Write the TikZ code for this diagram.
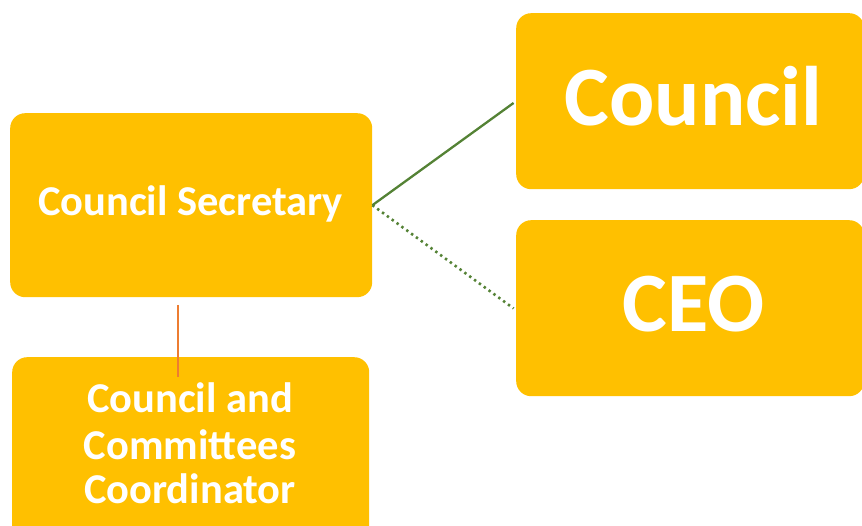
\documentclass[tikz,border=0pt]{standalone}
\usepackage{fontspec}
\setmainfont{Carlito}
\definecolor{boxfill}{HTML}{FFC000}
\definecolor{linkgreen}{HTML}{548235}
\definecolor{linkorange}{HTML}{ED7D31}
\begin{document}
\begin{tikzpicture}[x=1pt,y=-1pt,
  orgbox/.style={draw=none, fill=boxfill, rounded corners=15pt, inner sep=0pt},
  boxtext/.style={text=white, inner sep=0pt, anchor=base},
  smalltext/.style={boxtext, font=\bfseries\fontsize{42.5}{45}\selectfont},
  bigtext/.style={boxtext, font=\bfseries\fontsize{84.5}{90}\selectfont},
  solidlink/.style={draw=linkgreen, line width=2.3pt},
  dottedlink/.style={draw=linkgreen, line width=2.6pt, dash pattern=on 2.4pt off 3.6pt},
  thinlink/.style={draw=linkorange, line width=1.1pt}]
  \useasboundingbox (0,0) rectangle (862,526);
  \clip (0,0) rectangle (862,526);

  % boxes
  \node[orgbox, minimum width=362pt, minimum height=184pt, anchor=north west]
    (sec) at (10,113) {};
  \node[smalltext] (sectext) at (190.5,216) {Council Secretary};

  \node[orgbox, minimum width=348pt, minimum height=176pt, anchor=north west]
    (council) at (516,13) {};
  \node[bigtext] (counciltext) at (693.5,126) {Council};

  \node[orgbox, minimum width=348pt, minimum height=176pt, anchor=north west]
    (ceo) at (516,220) {};
  \node[bigtext] (ceotext) at (693.5,332) {CEO};

  \node[orgbox, minimum width=357pt, minimum height=190pt, anchor=north west]
    (coord) at (12,357) {};
  \node[smalltext] (coordtext1) at (190,413) {Council and};
  \node[smalltext] (coordtext2) at (190,459) {Committees};
  \node[smalltext] (coordtext3) at (190,503) {Coordinator};

  % connectors
  \draw[solidlink, shorten >=3pt] (sec.east) -- (council.west);
  \draw[dottedlink, shorten >=3pt] (sec.east) -- ([yshift=-2pt]ceo.west);
  \coordinate (vtop) at (178,305);
  \coordinate (vbot) at (178,377);
  \draw[thinlink] (vtop) -- (vbot);
\end{tikzpicture}
\end{document}
